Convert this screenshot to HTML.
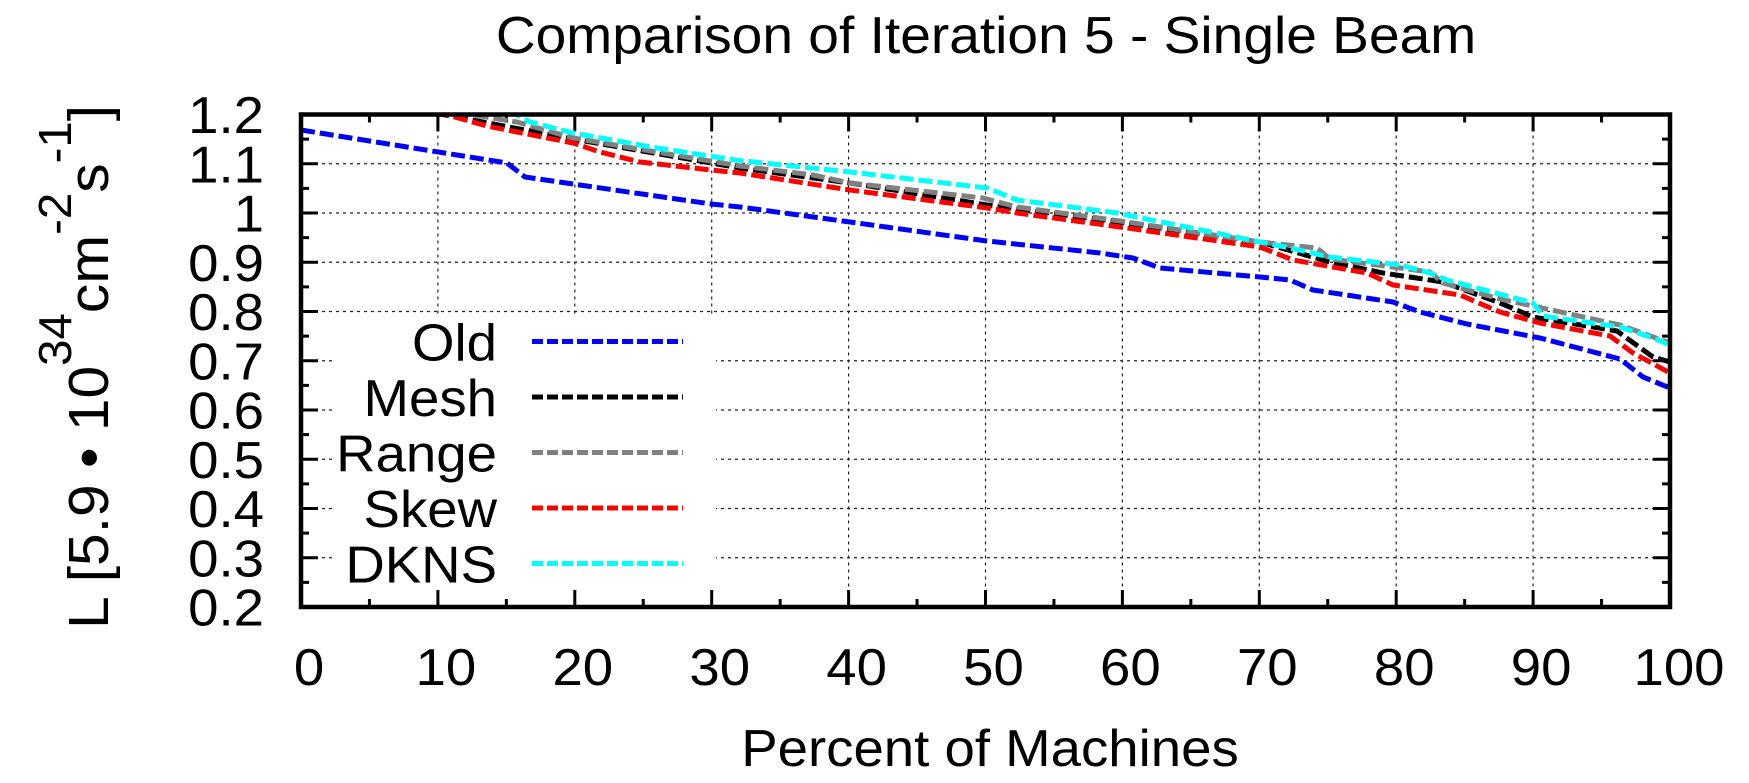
<!DOCTYPE html>
<html>
<head>
<meta charset="utf-8">
<style>
html,body{margin:0;padding:0;background:#fff;}
svg{display:block;}
text{font-family:"Liberation Sans",Arial,Helvetica,sans-serif;font-size:52px;fill:#000;}
</style>
</head>
<body>
<svg width="1749" height="783" viewBox="0 0 1749 783" xmlns="http://www.w3.org/2000/svg">
<defs>
<clipPath id="pc"><rect x="301" y="114.5" width="1369" height="492.5"/></clipPath>
</defs>
<rect x="0" y="0" width="1749" height="783" fill="#fff"/>

<!-- grid -->
<g stroke="#222" stroke-width="1.2" stroke-dasharray="3,4" fill="none">
<line x1="437.9" y1="114.5" x2="437.9" y2="607"/>
<line x1="574.8" y1="114.5" x2="574.8" y2="607"/>
<line x1="711.7" y1="114.5" x2="711.7" y2="607"/>
<line x1="848.6" y1="114.5" x2="848.6" y2="607"/>
<line x1="985.5" y1="114.5" x2="985.5" y2="607"/>
<line x1="1122.4" y1="114.5" x2="1122.4" y2="607"/>
<line x1="1259.3" y1="114.5" x2="1259.3" y2="607"/>
<line x1="1396.2" y1="114.5" x2="1396.2" y2="607"/>
<line x1="1533.1" y1="114.5" x2="1533.1" y2="607"/>
<line x1="301" y1="163.75" x2="1670" y2="163.75"/>
<line x1="301" y1="213" x2="1670" y2="213"/>
<line x1="301" y1="262.25" x2="1670" y2="262.25"/>
<line x1="301" y1="311.5" x2="1670" y2="311.5"/>
<line x1="301" y1="360.75" x2="1670" y2="360.75"/>
<line x1="301" y1="410" x2="1670" y2="410"/>
<line x1="301" y1="459.25" x2="1670" y2="459.25"/>
<line x1="301" y1="508.5" x2="1670" y2="508.5"/>
<line x1="301" y1="557.75" x2="1670" y2="557.75"/>
</g>

<!-- opaque legend box -->
<rect x="333" y="314" width="383" height="277" fill="#fff"/>

<!-- ticks -->
<g stroke="#000" stroke-width="3" fill="none">
<path d="M301 114.5h17M301 163.75h17M301 213h17M301 262.25h17M301 311.5h17M301 360.75h17M301 410h17M301 459.25h17M301 508.5h17M301 557.75h17M301 607h17
M301 139.1h8M301 188.4h8M301 237.6h8M301 286.9h8M301 336.1h8M301 385.4h8M301 434.6h8M301 483.9h8M301 533.1h8M301 582.4h8
M1670 114.5h-17M1670 163.75h-17M1670 213h-17M1670 262.25h-17M1670 311.5h-17M1670 360.75h-17M1670 410h-17M1670 459.25h-17M1670 508.5h-17M1670 557.75h-17M1670 607h-17
M1670 139.1h-8M1670 188.4h-8M1670 237.6h-8M1670 286.9h-8M1670 336.1h-8M1670 385.4h-8M1670 434.6h-8M1670 483.9h-8M1670 533.1h-8M1670 582.4h-8
M301 607v-17M437.9 607v-17M574.8 607v-17M711.7 607v-17M848.6 607v-17M985.5 607v-17M1122.4 607v-17M1259.3 607v-17M1396.2 607v-17M1533.1 607v-17M1670 607v-17
M369.45 607v-8M506.35 607v-8M643.25 607v-8M780.15 607v-8M917.05 607v-8M1053.95 607v-8M1190.85 607v-8M1327.75 607v-8M1464.65 607v-8M1601.55 607v-8
M301 114.5v17M437.9 114.5v17M574.8 114.5v17M711.7 114.5v17M848.6 114.5v17M985.5 114.5v17M1122.4 114.5v17M1259.3 114.5v17M1396.2 114.5v17M1533.1 114.5v17M1670 114.5v17
M369.45 114.5v8M506.35 114.5v8M643.25 114.5v8M780.15 114.5v8M917.05 114.5v8M1053.95 114.5v8M1190.85 114.5v8M1327.75 114.5v8M1464.65 114.5v8M1601.55 114.5v8"/>
</g>

<!-- data -->
<g clip-path="url(#pc)" fill="none" stroke-width="5" stroke-dasharray="14,5" stroke-linejoin="round">
<polyline stroke="#0000ff" points="301,130 507,163 525,177 573,184 711,204 740,207 850,222 987,241 1100,253 1133,258 1160,268 1260,277 1290,280 1313,290 1393,302 1420,312 1467,324 1540,338 1620,359 1643,377 1670,388"/>
<polyline stroke="#000000" points="380,99 440,114 573,139 740,168 850,183 987,205 1120,222 1260,242 1330,262 1383,273 1443,282 1500,303 1533,317 1617,331 1653,357 1670,362"/>
<polyline stroke="#808080" points="400,101 473,115 517,122 573,138 740,166 813,175 850,183 983,198 1017,207 1120,221 1260,242 1297,246 1317,248 1330,259 1393,267 1430,272 1443,283 1500,299 1533,306 1620,325 1670,343"/>
<polyline stroke="#ff0000" points="380,98 440,113 487,126 517,132 573,143 600,152 640,162 711,170 740,173 850,190 987,208 1017,213 1120,227 1260,247 1293,260 1367,273 1393,285 1460,295 1500,312 1540,323 1610,336 1633,353 1670,373"/>
<polyline stroke="#00ffff" points="490,104 517,115 530,122 573,133 657,148 735,160 850,172 987,188 1017,200 1117,213 1260,242 1290,248 1330,257 1400,265 1430,273 1447,280 1533,303 1543,316 1620,327 1653,338 1670,345"/>
</g>

<!-- border -->
<rect x="301" y="114.5" width="1369" height="492.5" fill="none" stroke="#000" stroke-width="4.5"/>

<!-- legend -->
<g fill="none" stroke-width="5" stroke-dasharray="11,4">
<line x1="532" y1="341.5" x2="683" y2="341.5" stroke="#0000ff"/>
<line x1="532" y1="397" x2="683" y2="397" stroke="#000000"/>
<line x1="532" y1="452.5" x2="683" y2="452.5" stroke="#808080"/>
<line x1="532" y1="508" x2="683" y2="508" stroke="#ff0000"/>
<line x1="532" y1="563.5" x2="683" y2="563.5" stroke="#00ffff"/>
</g>
<g text-anchor="end">
<text transform="translate(497,360.5) scale(1.05,1)">Old</text>
<text transform="translate(497,416) scale(1.05,1)">Mesh</text>
<text transform="translate(497,471.5) scale(1.05,1)">Range</text>
<text transform="translate(497,527) scale(1.05,1)">Skew</text>
<text transform="translate(497,582.5) scale(1.05,1)">DKNS</text>
</g>

<!-- y tick labels -->
<g text-anchor="end">
<text transform="translate(264,133) scale(1.05,1)">1.2</text>
<text transform="translate(264,182.25) scale(1.05,1)">1.1</text>
<text transform="translate(264,231.5) scale(1.05,1)">1</text>
<text transform="translate(264,280.75) scale(1.05,1)">0.9</text>
<text transform="translate(264,330) scale(1.05,1)">0.8</text>
<text transform="translate(264,379.25) scale(1.05,1)">0.7</text>
<text transform="translate(264,428.5) scale(1.05,1)">0.6</text>
<text transform="translate(264,477.75) scale(1.05,1)">0.5</text>
<text transform="translate(264,527) scale(1.05,1)">0.4</text>
<text transform="translate(264,576.25) scale(1.05,1)">0.3</text>
<text transform="translate(264,625.5) scale(1.05,1)">0.2</text>
</g>

<!-- x tick labels -->
<g text-anchor="middle">
<text transform="translate(309,685) scale(1.05,1)">0</text>
<text transform="translate(445.9,685) scale(1.05,1)">10</text>
<text transform="translate(582.8,685) scale(1.05,1)">20</text>
<text transform="translate(719.7,685) scale(1.05,1)">30</text>
<text transform="translate(856.6,685) scale(1.05,1)">40</text>
<text transform="translate(993.5,685) scale(1.05,1)">50</text>
<text transform="translate(1130.4,685) scale(1.05,1)">60</text>
<text transform="translate(1267.3,685) scale(1.05,1)">70</text>
<text transform="translate(1404.2,685) scale(1.05,1)">80</text>
<text transform="translate(1541.1,685) scale(1.05,1)">90</text>
<text transform="translate(1679,685) scale(1.05,1)">100</text>
</g>

<!-- title and axis labels -->
<text text-anchor="middle" transform="translate(986,53) scale(1.06,1)">Comparison of Iteration 5 - Single Beam</text>
<text text-anchor="middle" transform="translate(990,766) scale(1.05,1)">Percent of Machines</text>
<text text-anchor="middle" style="font-size:57px" transform="translate(108,367) rotate(-90) scale(1.03,1)">L [5.9 • 10<tspan font-size="46" dy="-37">34</tspan><tspan dy="37">cm</tspan><tspan font-size="46" dy="-37">-2</tspan><tspan dy="37">s</tspan><tspan font-size="46" dy="-37">-1</tspan><tspan dy="37">]</tspan></text>
</svg>
</body>
</html>
